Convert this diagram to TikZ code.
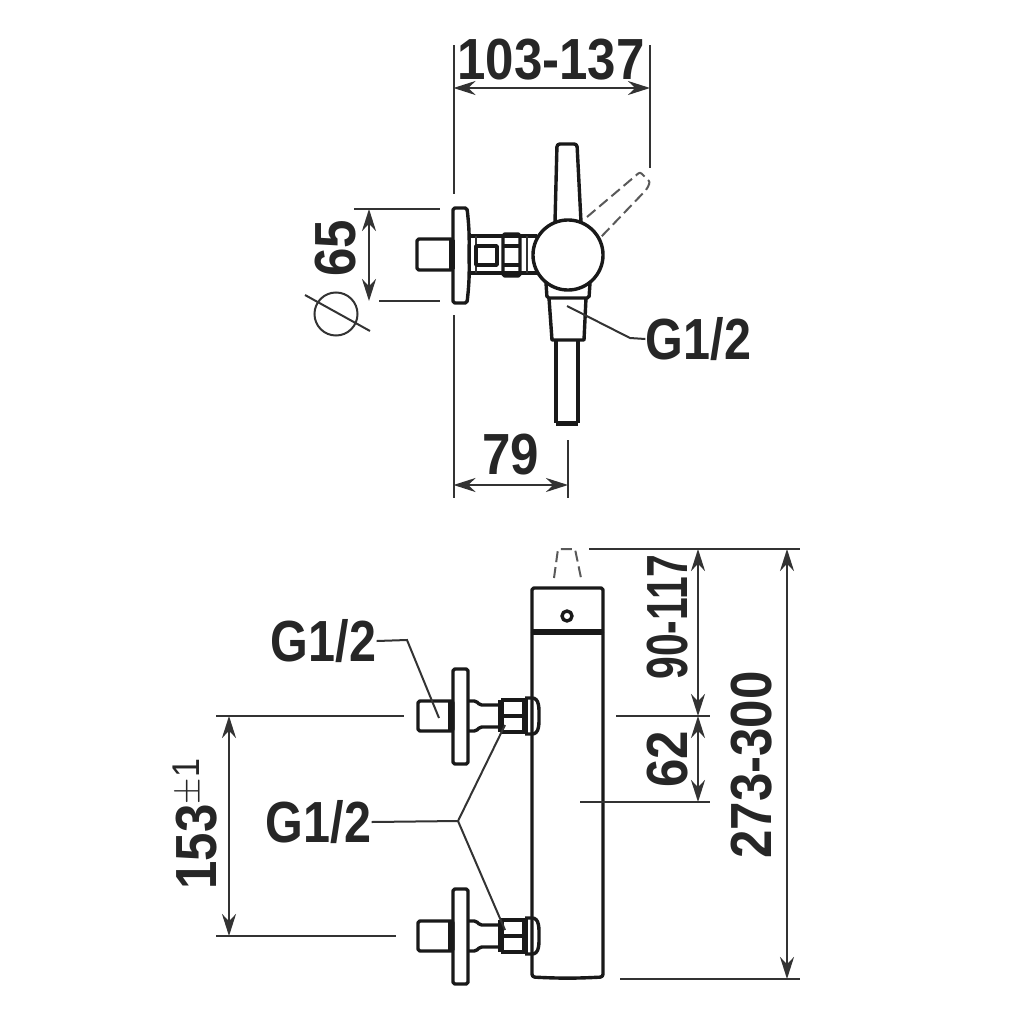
\documentclass[tikz,border=0pt]{standalone}
\usepackage{fontspec}
\setmainfont{Liberation Sans}
\usetikzlibrary{positioning, calc, arrows.meta}
\tikzset{
dimtext/.style = {font = \bfseries\fontsize{16.5}{18}\selectfont, text = black!85, xscale = 0.88, inner sep = 0pt},
thinline/.style = {line width = 0.2mm, black!80},
outline/.style = {line width = 0.34mm, black!90, line join = round},
heavy/.style = {line width = 0.55mm, black!90},
hidden/.style = {line width = 0.2mm, black!65, dash pattern = on 1.1mm off 0.5mm},
dimension/.style = {thinline, {Stealth[length = 2.2mm, width = 1.4mm]}-{Stealth[length = 2.2mm, width = 1.4mm]}},
vertlabel/.style = {rotate = 90, dimtext},
round/.style = {circle, draw, inner sep = 0pt}
}
\begin{document}
\begin{tikzpicture}[x = 0.01cm, y = -0.01cm]
\useasboundingbox (0,0) rectangle (1024,1024);

%% The labels
\node (top) [dimtext] at (551,60) {103-137};
\node (wide) [dimtext] at (511,455) {79};
\node (flange) [vertlabel] at (336,248) {65};
\node (gtop) [dimtext, xscale = 0.95] at (698.5,339) {G1/2};
\node (gupper) [dimtext, xscale = 0.95] at (323.5,641) {G1/2};
\node (glower) [dimtext, xscale = 0.95] at (318.5,822) {G1/2};
\node (rise) [vertlabel, xscale = 0.8] at (668,617) {90-117};
\node (short) [vertlabel] at (668,759) {62};
\node (total) [vertlabel] at (752,765) {273-300};
\node (pitch) [vertlabel, anchor = west] at (195,890) {153\raisebox{0.55ex}{\fontsize{11}{12}\mdseries\selectfont$\pm$1}};

%% Top view - extension lines
\coordinate (a1) at (453.5,45);
\coordinate (a2) at (453.5,194);
\coordinate (a3) at (453.5,315);
\coordinate (a4) at (453.5,498);
\coordinate (b1) at (650,45);
\coordinate (b2) at (650,168);
\coordinate (c1) at (568,440);
\coordinate (c2) at (568,498);
\draw [thinline] (a1) -- (a2);
\draw [thinline] (a3) -- (a4);
\draw [thinline] (b1) -- (b2);
\draw [thinline] (c1) -- (c2);
\coordinate (d1) at (354,209);
\coordinate (d2) at (440,209);
\coordinate (d3) at (379,301);
\coordinate (d4) at (440,301);
\draw [thinline] (d1) -- (d2);
\draw [thinline] (d3) -- (d4);

%% Top view - dimensions
\draw [dimension] (a1 |- 0,88) -- (b1 |- 0,88);
\draw [dimension] (a1 |- 0,485) -- (c1 |- 0,485);
\draw [dimension] (369,209) -- (369,301);

%% Top view - diameter sign
\node (dia) [round, thinline, minimum size = 0.43cm] at (336,314) {};
\coordinate (e1) at (305,295);
\coordinate (e2) at (370,331);
\draw [thinline] (e1) -- (e2);

%% Top view - fitting
\draw [outline, rounded corners = 0.5pt] (417,239) rectangle (453,270);
\draw [heavy] (452,240) -- (452,269);
\draw [outline, rounded corners = 0.5pt] (453,208) -- (467,208) to [bend left = 4] (469,255) to [bend left = 4] (467,303) -- (453,303) -- cycle;
\draw [outline] (469,236) -- (537,236);
\draw [outline] (469,273) -- (537,273);
\draw [thinline] (476,236) -- (476,273);
\draw [outline] (476,246) rectangle (497,265);
\draw [outline, rounded corners = 0.5pt] (503,234) rectangle (520,276);
\draw [outline] (503,246) -- (520,246);
\draw [outline] (503,265) -- (520,265);
\draw [thinline] (527,236) -- (527,273);

%% Top view - lever, body and outlet
\draw [outline, rounded corners = 0.8pt] (555,222) -- (557,144) -- (577,144) -- (581,222);
\draw [hidden, rounded corners = 0.6pt] (587,217) -- (640,172) -- (650,182) -- (647,189) -- (601,237);
\draw [outline, rounded corners = 0.5pt] (546,283) -- (547,298) -- (589,298) -- (590,283);
\draw [outline] (549,298) -- (552,340) -- (584,340) -- (586,298);
\draw [outline] (556,340) -- (556,423);
\draw [outline] (578,340) -- (578,423);
\draw [heavy] (556,423.5) -- (578,423.5);
\node (knob) [round, outline, fill = white, minimum size = 0.7cm] at (568,255) {};
\coordinate (g1) at (567,306);
\coordinate (g2) at (630,338);
\draw [thinline] (g1) -- (g2) -- (gtop.west);

%% Front view - body
\draw [outline, rounded corners = 0.5pt] (532,632) -- (532,588) -- (603,588) -- (603,632);
\draw [heavy] (532,632) -- (603,632);
\draw [outline, rounded corners = 0.8pt] (532,632) -- (532,977) to [bend right = 3] (603,977) -- (603,632);
\node (hole) [round, outline, minimum size = 0.1cm] at (567,616) {};
\draw [hidden] (554,578) -- (558,549) -- (575,549) -- (581,578);

%% Front view - the two valves
\foreach \vy in {716,936}
{
\draw [outline, rounded corners = 0.5pt] (418,\vy-15) rectangle (453,\vy+15);
\draw [heavy] (451,\vy-15) -- (451,\vy+15);
\draw [outline, rounded corners = 0.5pt] (453,\vy-47) rectangle (468,\vy+48);
\draw [outline, rounded corners = 0.5pt] (468,\vy-15) -- (476,\vy-15) -- (480,\vy-11) -- (501,\vy-11);
\draw [outline, rounded corners = 0.5pt] (468,\vy+15) -- (476,\vy+15) -- (480,\vy+11) -- (501,\vy+11);
\draw [heavy] (501,\vy-16) -- (501,\vy+16);
\draw [outline] (501,\vy-16) -- (525,\vy-16);
\draw [outline] (501,\vy+16) -- (525,\vy+16);
\draw [outline] (501,\vy) -- (525,\vy);
\draw [heavy] (525,\vy-18) -- (525,\vy+18);
\draw [outline] (525,\vy-18) -- (532,\vy-18) to [out = 0, in = 90] (539,\vy) to [out = -90, in = 0] (532,\vy+18) -- (525,\vy+18);
}

%% Front view - extension lines
\coordinate (f1) at (216,716);
\coordinate (f2) at (404,716);
\coordinate (f3) at (216,936);
\coordinate (f4) at (396,936);
\coordinate (f5) at (616,716);
\coordinate (f6) at (710,716);
\coordinate (f7) at (580,802);
\coordinate (f8) at (710,802);
\coordinate (f9) at (589,549);
\coordinate (f10) at (800,549);
\coordinate (f11) at (620,979);
\coordinate (f12) at (800,979);
\draw [thinline] (f1) -- (f2);
\draw [thinline] (f3) -- (f4);
\draw [thinline] (f5) -- (f6);
\draw [thinline] (f7) -- (f8);
\draw [thinline] (f9) -- (f10);
\draw [thinline] (f11) -- (f12);

%% Front view - dimensions
\draw [dimension] (229,716) -- (229,936);
\draw [dimension] (698,549) -- (698,716);
\draw [dimension] (698,716) -- (698,802);
\draw [dimension] (787,549) -- (787,979);

%% Front view - thread leaders
\coordinate (h1) at (407,640);
\coordinate (h2) at (439,718);
\draw [thinline] (gupper.east) -- (h1) -- (h2);
\coordinate (h3) at (458,821);
\coordinate (h4) at (505,725);
\coordinate (h5) at (505,930);
\draw [thinline] (glower.east) -- (h3) -- (h4);
\draw [thinline] (h3) -- (h5);

\end{tikzpicture}
\end{document}
